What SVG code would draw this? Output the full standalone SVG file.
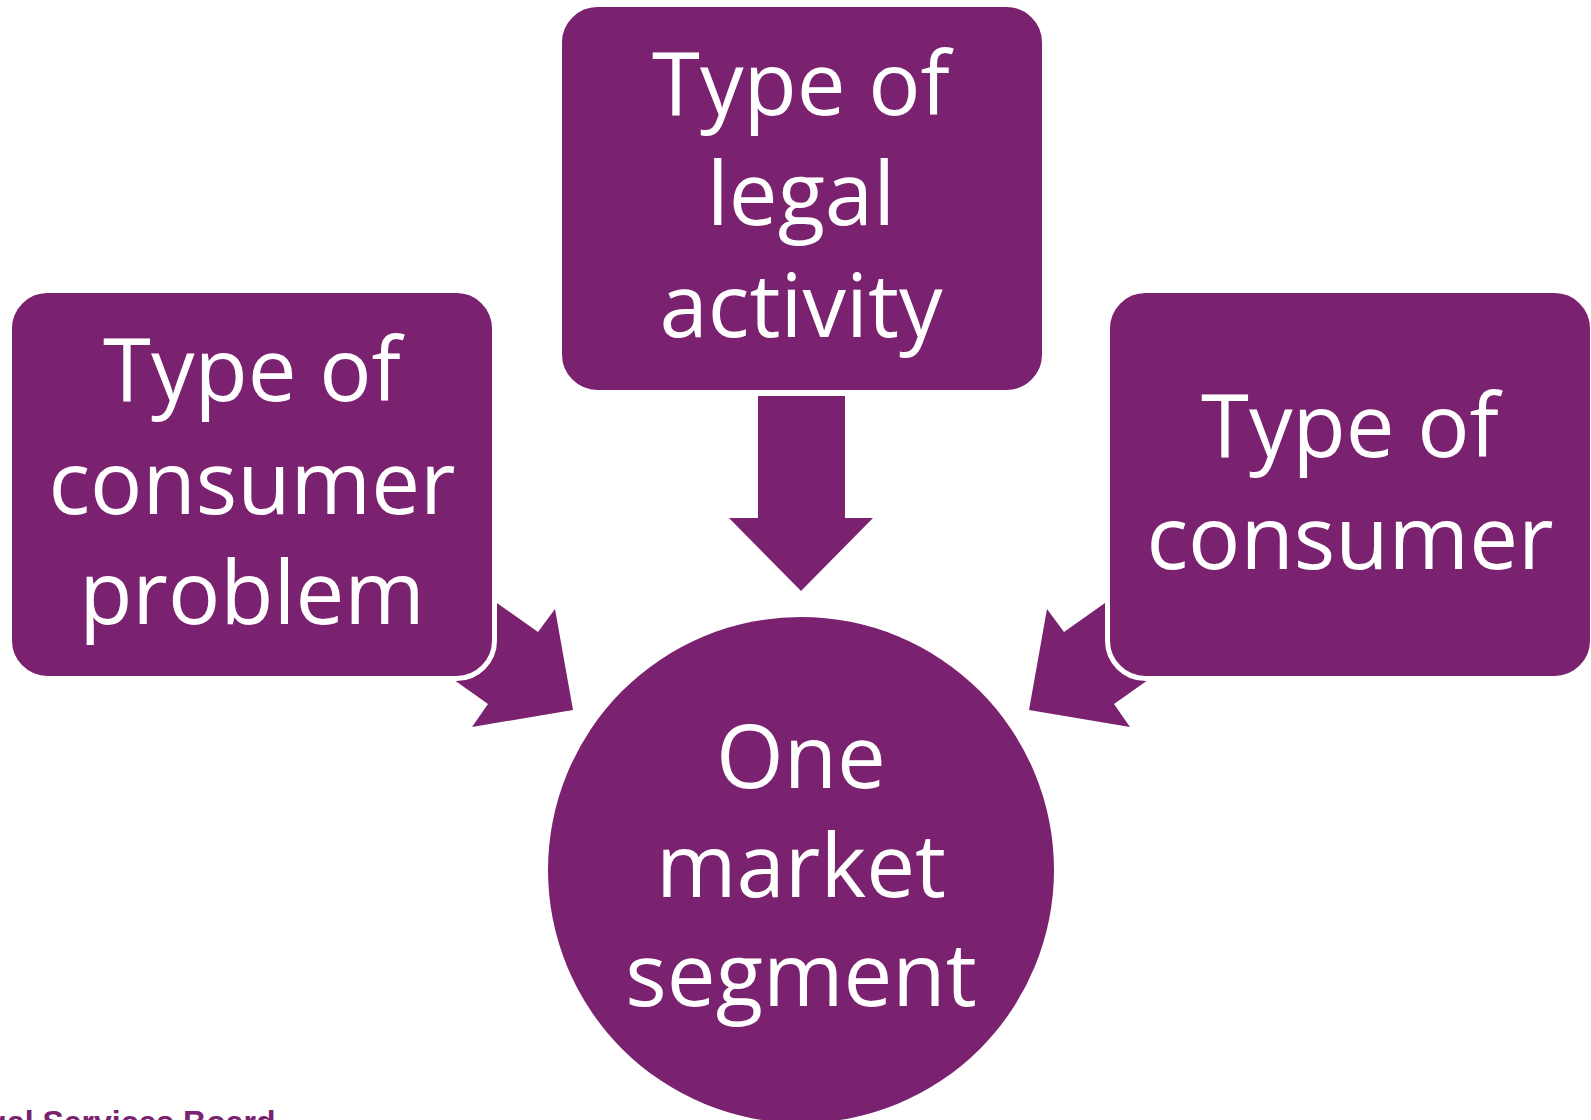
<svg xmlns="http://www.w3.org/2000/svg" width="1591" height="1120" viewBox="0 0 1591 1120">
  <style>
    .shape { fill: #7a216f; }
    .box { fill: #7a216f; stroke: #ffffff; stroke-width: 5; }
    .label { fill: #ffffff; font-family: "Open Sans", "Noto Sans", sans-serif; font-size: 87px; text-anchor: middle; }
    .footer { fill: #7a216f; font-family: "Liberation Sans", Arial, sans-serif; font-weight: bold; font-size: 32px; }
  </style>
  <rect width="1591" height="1120" fill="#ffffff"/>
  <g id="connectors">
    <polygon class="shape" points="758,396 845,396 845,518 873,518 801,591 729,518 758,518"/>
    <polygon class="shape" points="432,557 538,632 555,609 573,710 472,727 488,704 382,629"/>
    <polygon class="shape" points="1170,557 1064,632 1047,609 1029,710 1130,727 1114,704 1220,629"/>
  </g>
  <g id="node-activity">
    <rect class="box" x="559.5" y="4.5" width="485" height="388" rx="38"/>
    <text class="label" x="801" y="115">Type of</text>
    <text class="label" x="801" y="225">legal</text>
    <text class="label" x="801" y="337">activity</text>
  </g>
  <g id="node-problem">
    <rect class="box" x="9.5" y="290.5" width="485" height="388" rx="38"/>
    <text class="label" x="252" y="401">Type of</text>
    <text class="label" x="252" y="514">consumer</text>
    <text class="label" x="252" y="624">problem</text>
  </g>
  <g id="node-consumer">
    <rect class="box" x="1107.5" y="290.5" width="485" height="388" rx="38"/>
    <text class="label" x="1350" y="457">Type of</text>
    <text class="label" x="1350" y="569">consumer</text>
  </g>
  <g id="node-segment">
    <circle class="shape" cx="801" cy="870" r="253"/>
    <text class="label" x="801" y="788">One</text>
    <text class="label" x="801" y="897">market</text>
    <text class="label" x="801" y="1006">segment</text>
  </g>
  <text class="footer" x="-50" y="1133">Legal Services Board</text>
</svg>
